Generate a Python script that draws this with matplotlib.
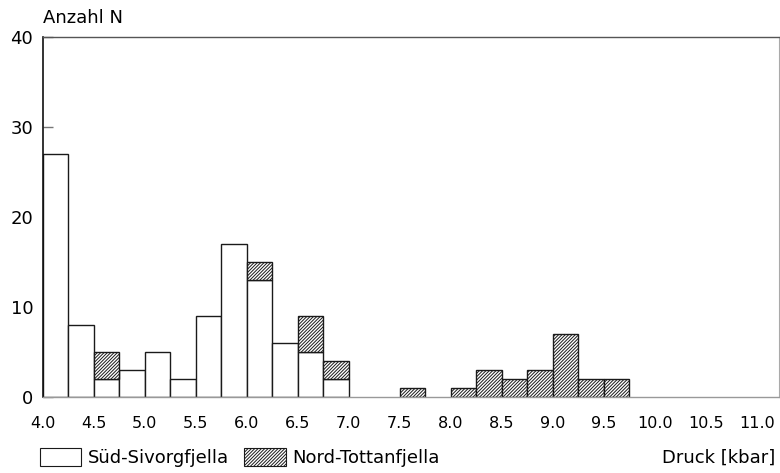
import matplotlib
matplotlib.use("Agg")
import matplotlib.pyplot as plt
import numpy as np

plt.rcParams["font.family"] = ["DejaVu Sans"]
plt.rcParams["hatch.linewidth"] = 0.7

# Histogram data, bin width 0.25 kbar starting at 4.0
bin_width = 0.25
bin_left = np.arange(4.0, 11.0, bin_width)
sued = [27, 8, 2, 3, 5, 2, 9, 17, 13, 6, 5, 2, 0, 0,
        0, 0, 0, 0, 0, 0, 0, 0, 0, 0, 0, 0, 0, 0]
nord = [0, 0, 3, 0, 0, 0, 0, 0, 2, 0, 4, 2, 0, 0,
        1, 0, 1, 3, 2, 3, 7, 2, 2, 0, 0, 0, 0, 0]
xticks = [4.0, 4.5, 5.0, 5.5, 6.0, 6.5, 7.0, 7.5, 8.0, 8.5, 9.0, 9.5, 10.0, 10.5, 11.0]
yticks = [0, 10, 20, 30, 40]

fig = plt.figure(figsize=(7.8, 4.73), dpi=100)
ax = fig.add_axes([0.055, 0.161, 0.944, 0.761])

sued = np.array(sued)
nord = np.array(nord)
mask_s = sued > 0
mask_n = nord > 0

ax.bar(bin_left[mask_s], sued[mask_s], width=bin_width, align="edge",
       color="white", edgecolor="#1a1a1a", linewidth=1.0,
       label="Süd-Sivorgfjella", zorder=2)
ax.bar(bin_left[mask_n], nord[mask_n], width=bin_width, bottom=sued[mask_n],
       align="edge", color="white", edgecolor="#1a1a1a", linewidth=1.0,
       hatch="//////////", label="Nord-Tottanfjella", zorder=2)

ax.set_xlim(4.0, 11.22)
ax.set_ylim(0, 40)
ax.set_xticks(xticks)
ax.set_xticklabels(["%.1f" % t for t in xticks], fontsize=11.5)
ax.set_yticks(yticks)
ax.set_yticklabels([str(t) for t in yticks], fontsize=13)
ax.tick_params(axis="x", length=0, pad=14)
ax.tick_params(axis="y", direction="in", length=7, width=1, color="#777777", pad=7)

ax.spines["left"].set_color("#111111")
ax.spines["left"].set_linewidth(1.2)
ax.spines["top"].set_color("#555555")
ax.spines["top"].set_linewidth(1.0)
ax.spines["right"].set_color("#aaaaaa")
ax.spines["right"].set_linewidth(0.8)
ax.spines["bottom"].set_color("#999999")
ax.spines["bottom"].set_linewidth(1.0)

fig.text(0.055, 0.962, "Anzahl N", fontsize=13, ha="left", va="center")
fig.text(0.994, 0.033, "Druck [kbar]", fontsize=13, ha="right", va="center")

leg = ax.legend(loc="center left", bbox_to_anchor=(0.051, 0.033), bbox_transform=fig.transFigure,
                ncol=2, frameon=False, fontsize=13, handlelength=2.3, handleheight=1.15,
                handletextpad=0.35, columnspacing=0.85, borderaxespad=0, borderpad=0)
for h in leg.legend_handles:
    h.set_linewidth(0.8)

fig.savefig("out.png", dpi=100)
